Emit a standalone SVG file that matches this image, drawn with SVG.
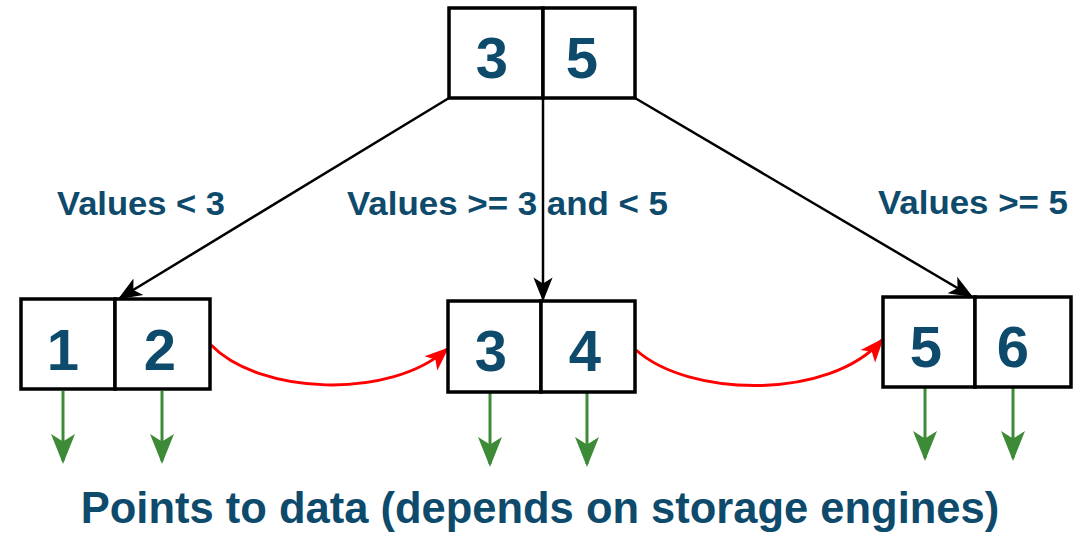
<svg xmlns="http://www.w3.org/2000/svg" width="1073" height="533" viewBox="0 0 1073 533">
  <style>
    .cell { fill: #ffffff; stroke: #000000; stroke-width: 3.5; }
    .num { font-family: "Liberation Sans", Arial, sans-serif; font-weight: bold; font-size: 58px; fill: #0d4a6b; text-anchor: middle; }
    .lbl { font-family: "Liberation Sans", Arial, sans-serif; font-weight: bold; font-size: 34px; fill: #0d4a6b; }
    .note { font-family: "Liberation Sans", Arial, sans-serif; font-weight: bold; font-size: 43.5px; fill: #0d4a6b; text-anchor: middle; }
    .tree { fill: none; stroke: #000000; stroke-width: 2.5; marker-end: url(#arrowBlack); }
    .link { fill: none; stroke: #ff0000; stroke-width: 3; marker-end: url(#arrowRed); }
    .data { fill: none; stroke: #3d8b37; stroke-width: 3; marker-end: url(#arrowGreen); }
  </style>
  <defs>
    <marker id="arrowBlack" viewBox="0 0 20 20" refX="18" refY="10" markerWidth="24" markerHeight="24" markerUnits="userSpaceOnUse" orient="auto">
      <path d="M0,2 L20,10 L0,18 L5,10 Z" fill="#000000"/>
    </marker>
    <marker id="arrowRed" viewBox="0 0 20 20" refX="18" refY="10" markerWidth="24" markerHeight="24" markerUnits="userSpaceOnUse" orient="auto">
      <path d="M0,2 L20,10 L0,18 L5,10 Z" fill="#ff0000"/>
    </marker>
    <marker id="arrowGreen" viewBox="0 0 20 20" refX="18" refY="10" markerWidth="30" markerHeight="30" markerUnits="userSpaceOnUse" orient="auto">
      <path d="M0,2 L20,10 L0,18 L5,10 Z" fill="#3d8b37"/>
    </marker>
  </defs>

  <!-- connectors -->
  <g id="connectors">
    <path class="tree" d="M449,98 L120,298"/>
    <path class="tree" d="M543,98 L543,299"/>
    <path class="tree" d="M635,98 L971,296"/>
    <path class="link" d="M211,345 C260,395 390,400 447,349"/>
    <path class="link" d="M636,350 C690,398 830,400 882,340"/>
    <path class="data" d="M63,391 L63,461"/>
    <path class="data" d="M162,391 L162,461"/>
    <path class="data" d="M490,393 L490,464"/>
    <path class="data" d="M587,393 L587,464"/>
    <path class="data" d="M925,388 L925,458"/>
    <path class="data" d="M1013,388 L1013,458"/>
  </g>

  <!-- root node -->
  <g id="root">
    <rect class="cell" x="449" y="8" width="94" height="90"/>
    <rect class="cell" x="543" y="8" width="92" height="90"/>
    <text class="num" x="492" y="78">3</text>
    <text class="num" x="582" y="78">5</text>
  </g>

  <!-- leaf nodes -->
  <g id="leaf12">
    <rect class="cell" x="21" y="299" width="94" height="90"/>
    <rect class="cell" x="115" y="299" width="95" height="90"/>
    <text class="num" x="63" y="370">1</text>
    <text class="num" x="160" y="370">2</text>
  </g>
  <g id="leaf34">
    <rect class="cell" x="448" y="301" width="93" height="91"/>
    <rect class="cell" x="541" y="301" width="94" height="91"/>
    <text class="num" x="491" y="371">3</text>
    <text class="num" x="585" y="371">4</text>
  </g>
  <g id="leaf56">
    <rect class="cell" x="883" y="297" width="92" height="90"/>
    <rect class="cell" x="975" y="297" width="96" height="90"/>
    <text class="num" x="926" y="367">5</text>
    <text class="num" x="1013" y="367">6</text>
  </g>

  <!-- branch labels -->
  <g id="labels">
    <text class="lbl" x="57" y="215" textLength="168" lengthAdjust="spacingAndGlyphs">Values &lt; 3</text>
    <text class="lbl" x="347" y="215" textLength="321" lengthAdjust="spacingAndGlyphs">Values &gt;= 3 and &lt; 5</text>
    <text class="lbl" x="878" y="214" textLength="190" lengthAdjust="spacingAndGlyphs">Values &gt;= 5</text>
  </g>

  <g id="caption">
    <text class="note" x="540" y="523">Points to data (depends on storage engines)</text>
  </g>
</svg>
